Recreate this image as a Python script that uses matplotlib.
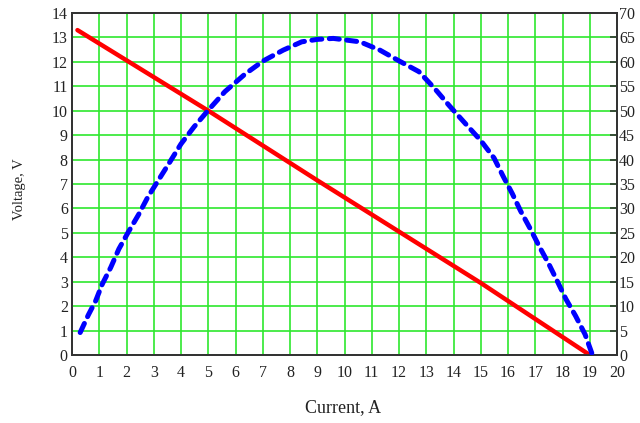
import matplotlib
matplotlib.use("Agg")
import matplotlib.pyplot as plt

# Data
current_v = [0.2, 5, 9, 12, 15, 19.0]
voltage = [13.3, 10.0, 7.15, 5.05, 2.95, 0.0]

current_p = [0.3, 0.6, 0.87, 1.11, 1.42, 1.72, 2.06, 2.45, 2.78, 3.15, 3.59, 4.0,
             4.48, 5.0, 5.61, 6.35, 7.02, 7.75, 8.43, 9.0, 9.59, 10.57, 11.3, 12.0,
             12.73, 13.3, 13.85, 14.43, 15.0, 15.49, 15.82, 16.16, 16.46, 16.83,
             17.14, 17.5, 17.81, 18.12, 18.48, 18.83, 19.1]
power = [4.6, 8.2, 11.1, 14.5, 17.9, 21.7, 25.1, 28.8, 32.3, 35.6, 39.5, 43.2,
         46.7, 50.1, 53.9, 57.5, 60.2, 62.4, 64.1, 64.6, 64.8, 64.1, 62.4, 60.2,
         58.0, 54.6, 51.0, 47.4, 43.9, 40.3, 36.6, 33.0, 29.5, 25.7,
         22.3, 18.6, 15.1, 11.5, 8.0, 4.2, 0.0]

x_ticks = list(range(0, 21))
v_ticks = list(range(0, 15))
p_ticks = list(range(0, 71, 5))

plt.rcParams['font.family'] = ['Liberation Serif', 'DejaVu Serif']
txt = '#222222'

fig = plt.figure(figsize=(6.4, 4.23), dpi=100)
ax = fig.add_axes([72/640, 1-355/423, (617-72)/640, (355-13)/423])
ax2 = ax.twinx()

ax.set_xlim(0, 20)
ax.set_ylim(0, 14)
ax2.set_ylim(0, 70)
ax.set_xticks(x_ticks)
ax.set_yticks(v_ticks)
ax2.set_yticks(p_ticks)

ax.grid(True, color='#2ee82e', linewidth=1.2)
ax.set_axisbelow(True)

ax.plot(current_v, voltage, color='#ff0000', linewidth=3.2, solid_capstyle='round', zorder=3)
ax2.plot(current_p, power, color='#0000ff', linewidth=3.6, linestyle=(0, (2.0, 1.5)),
         dash_capstyle='round', zorder=3)

ax.tick_params(axis='y', length=0, labelsize=11.5, labelcolor=txt, pad=3)
ax.tick_params(axis='x', length=0, labelsize=11.5, labelcolor=txt, pad=7)
ax2.tick_params(axis='y', direction='in', length=5, width=1.2, color='#333333',
                labelsize=11.5, labelcolor=txt, pad=1.5)

for a in (ax, ax2):
    for s in a.spines.values():
        s.set_color('#333333')
        s.set_linewidth(1.3)

fig.text(19/640, 1-189/423, 'Voltage, V', rotation=90, ha='center', va='center',
         fontsize=10.5, color=txt)
fig.text(343/640, 1-408/423, 'Current, A', ha='center', va='center',
         fontsize=13, color=txt)

fig.savefig('out.png', dpi=100)
